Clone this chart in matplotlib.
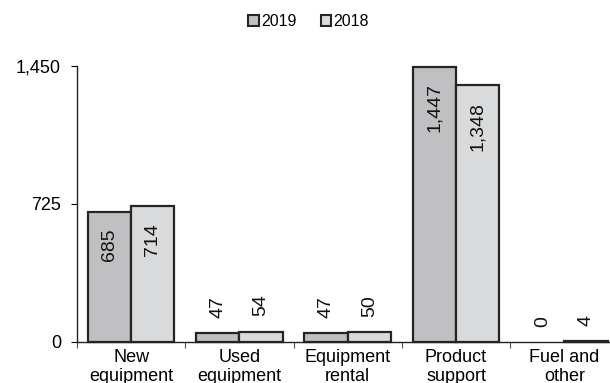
import matplotlib.pyplot as plt
import numpy as np
from matplotlib.patches import Rectangle

plt.rcParams['font.family'] = ['Liberation Sans', 'DejaVu Sans']

categories = ['New\nequipment', 'Used\nequipment', 'Equipment\nrental',
              'Product\nsupport', 'Fuel and\nother']
values_2019 = [685, 47, 47, 1447, 0]
values_2018 = [714, 54, 50, 1348, 4]
series = ['2019', '2018']
colors = ['#c0c0c2', '#d9dadb']
yticks = [0, 725, 1450]

fig = plt.figure(figsize=(6.10, 3.83), dpi=100)
ax = fig.add_axes([77 / 610, 41 / 383, 541.5 / 610, 276 / 383])

x = np.arange(len(categories))
w = 0.4
edge = '#252525'
for vals, off, c in [(values_2019, -w / 2, colors[0]), (values_2018, w / 2, colors[1])]:
    # zero-height bars show no outline in the original
    lws = [1.6 if v else 0 for v in vals]
    ax.bar(x + off, vals, width=w, color=c, edgecolor=edge, linewidth=lws, clip_on=False)
    for xi, v in zip(x + off, vals):
        if v > 300:
            ax.annotate(f'{v:,}', (xi, v), xytext=(0, -12), textcoords='offset points',
                        rotation=90, ha='center', va='top', fontsize=14, color='#111111')
        else:
            ax.annotate(f'{v:,}', (xi, v), xytext=(0, 11), textcoords='offset points',
                        rotation=90, ha='center', va='bottom', fontsize=14, color='#111111')

ax.set_xlim(-0.5, len(categories) - 0.5)
ax.set_ylim(0, 1450)
ax.set_yticks(yticks)
ax.set_yticklabels([f'{t:,}' for t in yticks])
ax.set_xticks(x)
ax.set_xticklabels(categories, linespacing=1.12)
ax.set_xticks(np.arange(len(categories) + 1) - 0.5, minor=True)
ax.tick_params(axis='x', which='major', length=0, pad=5, labelsize=13)
ax.tick_params(axis='x', which='minor', length=4, width=0.8, color='#555555')
ax.tick_params(axis='y', length=4.5, width=0.8, pad=7, labelsize=13)

for s in ['top', 'right']:
    ax.spines[s].set_visible(False)
for s in ['left', 'bottom']:
    ax.spines[s].set_linewidth(1.0)
    ax.spines[s].set_color('#222222')

handles = [Rectangle((0, 0), 1, 1, facecolor=c, edgecolor=edge, linewidth=1.5) for c in colors]
fig.legend(handles, series, loc='center', bbox_to_anchor=(0.506, 0.944), ncol=2,
           frameon=False, fontsize=11.5, handlelength=0.65, handleheight=0.65,
           handletextpad=0.15, columnspacing=1.5)

fig.savefig('out.png', dpi=100)
